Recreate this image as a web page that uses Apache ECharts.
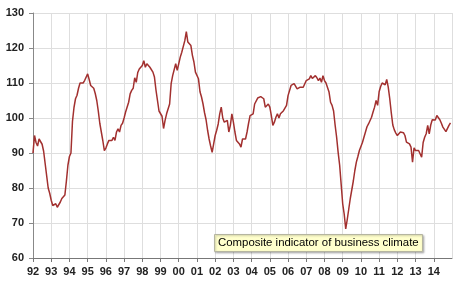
<!DOCTYPE html>
<html>
<head>
<meta charset="utf-8">
<script src="https://cdn.jsdelivr.net/npm/echarts@6/dist/echarts.min.js"></script>
<style>
  html, body { margin: 0; padding: 0; background: #ffffff; }
  #chart { width: 460px; height: 291px; }
</style>
</head>
<body>
<div id="chart"></div>
<script>
// Tick labels for the x axis (years)
const yearLabels = ['92','93','94','95','96','97','98','99','00','01','02','03','04','05','06','07','08','09','10','11','12','13','14'];
const startYear = 1992;
const seriesName = 'Composite indicator of business climate';

// Monthly values, one row per year (Jan..Dec)
const v1992 = [90, 95, 93, 92, 94, 93.5, 92.5, 90.5, 87, 83.5, 80, 78.5];
const v1993 = [76.5, 75, 74.5, 75.5, 74.5, 74, 76, 77, 77.5, 78, 82, 86.5];
const v1994 = [89, 90, 99, 103, 105.5, 106.5, 108.5, 110, 110, 110, 110.7, 111.2];
const v1995 = [112.6, 111, 109.3, 109.3, 108.5, 107, 105, 102, 98.5, 96, 93.5, 90.7];
const v1996 = [91.4, 92.6, 93.6, 94, 93.6, 94.5, 93.6, 96, 96.9, 96, 97.9, 98.5];
const v1997 = [100, 101.7, 102.1, 104.5, 106.9, 107.9, 108.5, 111.5, 110.2, 113, 114, 113.6];
const v1998 = [115, 116.4, 114.5, 115.5, 115.8, 114.5, 114, 113.1, 111.7, 108, 105, 102];
const v1999 = [102, 100.5, 97, 99.3, 101.2, 101.5, 104, 109.8, 112.1, 112.6, 115.5, 113.6];
const v2000 = [115.5, 117.4, 118.8, 119.3, 122.1, 124.7, 121.7, 121.2, 120.7, 117.9, 116, 113.1];
const v2001 = [112.6, 111.2, 107.5, 106, 104, 101.5, 99.5, 96.5, 94, 92, 90.2, 92.6];
const v2002 = [95, 96.5, 98.3, 101.2, 103.1, 100, 98.8, 98.8, 99.3, 96, 97.9, 101.2];
const v2003 = [98.8, 96, 93.6, 93.6, 92.6, 91.7, 94, 93.6, 94, 96, 98.5, 100.7];
const v2004 = [101.2, 101.2, 104, 104.5, 105.7, 106.1, 106.1, 105.9, 105.5, 103.1, 103.6, 104];
const v2005 = [103.1, 100.7, 97.9, 98.8, 100.2, 101.2, 100, 101.2, 101.7, 102.1, 102.5, 103.6];
const v2006 = [106.4, 106.9, 109.3, 109.5, 109.8, 109.3, 108.3, 107.9, 108.8, 108.8, 108.8, 108.3];
const v2007 = [110.7, 111.2, 111.2, 112.1, 111.3, 111.8, 112.1, 111.5, 110.7, 111.4, 110.2, 112.1];
const v2008 = [110.7, 110, 109.8, 107.4, 104.5, 103.6, 102, 98, 94.5, 90.2, 86.5, 81];
const v2009 = [75.5, 72.5, 68.3, 71, 74, 77, 79.5, 82, 85, 87.4, 89, 90.7];
const v2010 = [91, 93, 94.5, 96, 97.5, 98.3, 98.8, 100.2, 101.7, 103.1, 105, 103.6];
const v2011 = [107.5, 109, 110, 110, 109.5, 111, 108.8, 105.5, 101.5, 98, 96.6, 95.7];
const v2012 = [95, 95.3, 96, 96.4, 95.8, 95, 93.1, 92.6, 92.6, 91.7, 87.4, 91.5];
const v2013 = [90.7, 91.2, 90.7, 91.2, 88.8, 93, 94.5, 95.5, 97.9, 95.5, 98, 99.5];
const v2014 = [99.7, 99.4, 100.7, 100.5, 99.5, 98.5, 97.4, 96.9, 96.1, 96.4, 97.9, 98.6];

const monthly = [].concat(v1992, v1993, v1994, v1995, v1996, v1997, v1998, v1999,
  v2000, v2001, v2002, v2003, v2004, v2005, v2006, v2007, v2008, v2009, v2010,
  v2011, v2012, v2013, v2014);
const seriesData = monthly.map((v, i) => [startYear + i / 12, v]);

const chart = echarts.init(document.getElementById('chart'), null, { renderer: 'canvas' });
const labelFont = { fontFamily: 'Liberation Sans, Arial, sans-serif', fontWeight: 'bold', fontSize: 11, color: '#222' };

chart.setOption({
  animation: false,
  backgroundColor: '#ffffff',
  grid: { left: 33, top: 13, width: 419, height: 245, containLabel: false },
  title: {
    text: seriesName,
    left: 214,
    top: 234,
    padding: [3, 4, 3, 4],
    backgroundColor: '#ffffcc',
    borderColor: '#b5b5a0',
    borderWidth: 1,
    shadowBlur: 2,
    shadowColor: 'rgba(0,0,0,0.25)',
    shadowOffsetX: 1,
    shadowOffsetY: 1,
    textStyle: { fontFamily: 'Liberation Sans, Arial, sans-serif', fontWeight: 'normal', fontSize: 11.4, color: '#000', lineHeight: 12 }
  },
  xAxis: {
    type: 'value',
    min: 1992,
    max: 2015,
    interval: 1,
    axisLine: { show: true, lineStyle: { color: '#777', width: 1 } },
    axisTick: { show: true, length: 4, lineStyle: { color: '#777' } },
    axisLabel: Object.assign({
      margin: 8,
      showMaxLabel: false,
      formatter: (val) => {
        const idx = Math.round(val) - startYear;
        return idx >= 0 && idx < yearLabels.length ? yearLabels[idx] : '';
      }
    }, labelFont),
    splitLine: { show: true, lineStyle: { color: '#dedede', width: 1 } }
  },
  yAxis: {
    type: 'value',
    min: 60,
    max: 130,
    interval: 10,
    axisLine: { show: true, lineStyle: { color: '#888', width: 1 } },
    axisTick: { show: true, length: 4, lineStyle: { color: '#888' } },
    axisLabel: Object.assign({ margin: 9 }, labelFont),
    splitLine: { show: true, lineStyle: { color: '#dedede', width: 1 } }
  },
  series: [{
    name: seriesName,
    type: 'line',
    data: seriesData,
    showSymbol: false,
    symbol: 'none',
    smooth: false,
    lineStyle: { color: '#a2302f', width: 1.5 },
    z: 2
  }]
});
</script>
</body>
</html>
